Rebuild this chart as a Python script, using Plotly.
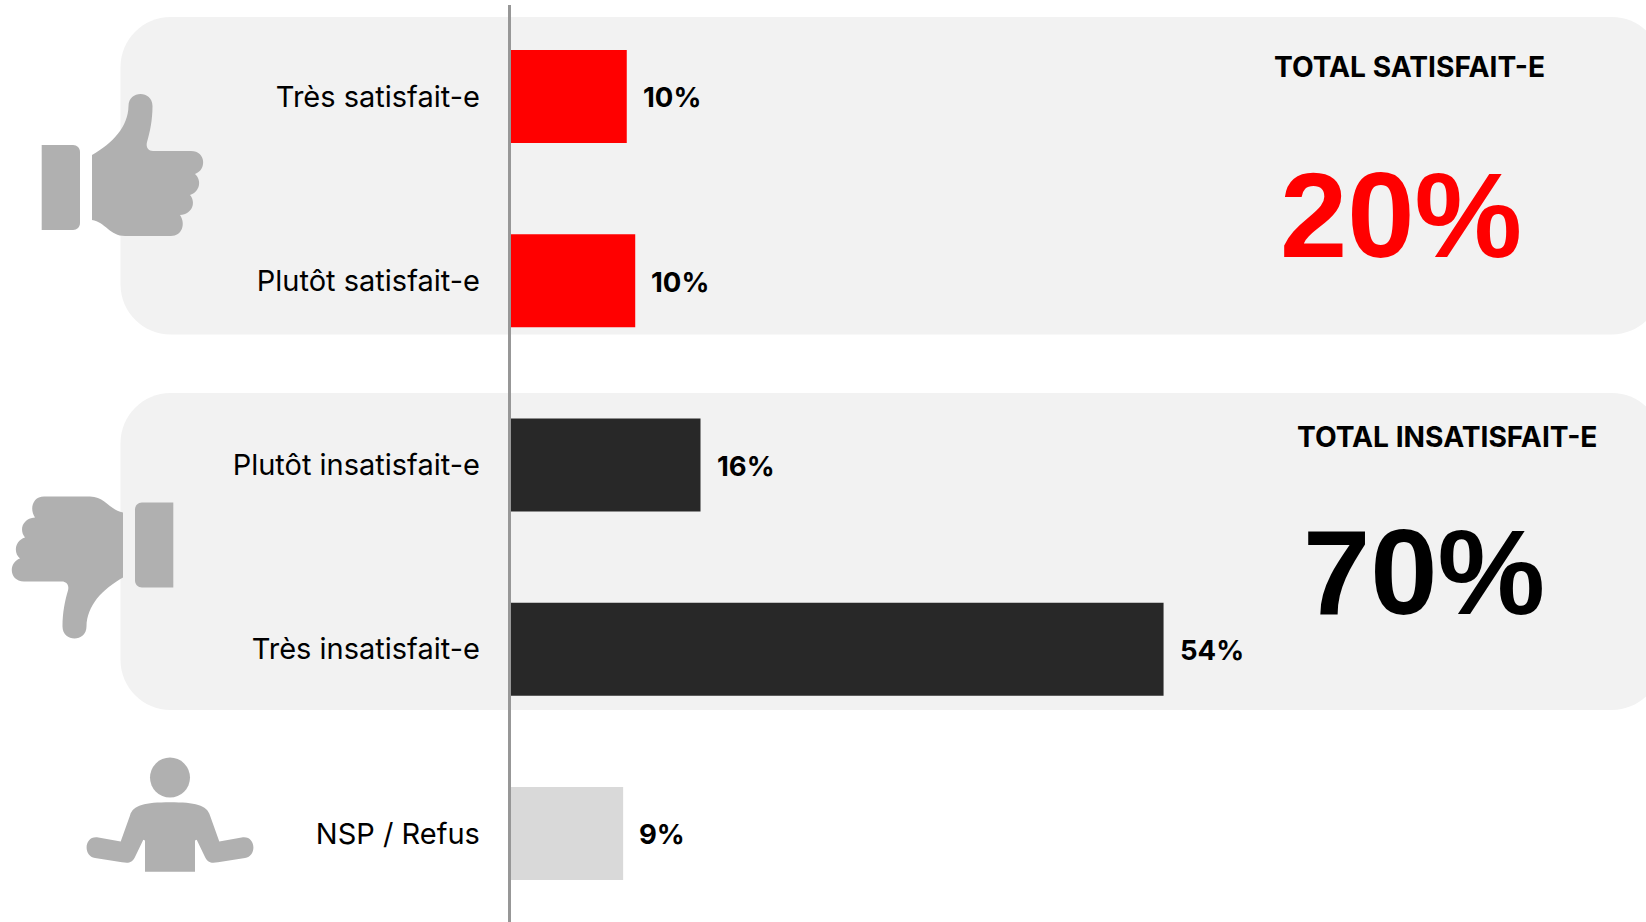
import plotly.graph_objects as go

W, H = 1646, 922

categories = ["Très satisfait-e", "Plutôt satisfait-e", "Plutôt insatisfait-e", "Très insatisfait-e", "NSP / Refus"]
values = [9.6, 10.3, 15.7, 54.0, 9.3]
value_labels = ["10%", "10%", "16%", "54%", "9%"]
bar_colors = ["#FF0000", "#FF0000", "#282828", "#282828", "#D9D9D9"]

total_titles = ["TOTAL SATISFAIT-E", "TOTAL INSATISFAIT-E"]
total_values = ["20%", "70%"]
total_colors = ["#FF0000", "#000000"]

ICON = "#B0B0B0"
PANEL = "#F2F2F2"
FONT = "Inter"
X0 = 510.7
PITCH = 184.25
C0 = 96.4


def px(x, y):
    return f"{x / W:.5f},{1 - y / H:.5f}"


def path(cmds):
    out = []
    for c in cmds:
        out.append(c[0] + " " + " ".join(px(c[i], c[i + 1]) for i in range(1, len(c), 2)))
    return " ".join(out) + " Z"


def rrect(x0, y0, x1, y1, r):
    k = r * 0.45
    return path([
        ("M", x0 + r, y0), ("L", x1 - r, y0),
        ("C", x1 - k, y0, x1, y0 + k, x1, y0 + r), ("L", x1, y1 - r),
        ("C", x1, y1 - k, x1 - k, y1, x1 - r, y1), ("L", x0 + r, y1),
        ("C", x0 + k, y1, x0, y1 - k, x0, y1 - r), ("L", x0, y0 + r),
        ("C", x0, y0 + k, x0 + k, y0, x0 + r, y0),
    ])


HAND = [
    ("M", 92, 155),
    ("C", 113, 143, 128, 127, 128.5, 106),
    ("C", 128.5, 90, 152.5, 90, 152.5, 106),
    ("C", 152.5, 120, 150, 132, 147, 142),
    ("C", 145.5, 148, 149, 151, 153, 151),
    ("L", 191, 151),
    ("C", 206, 151, 207, 170, 195, 174),
    ("C", 202, 180, 200, 192, 190, 195),
    ("C", 196, 202, 193, 214, 180, 215),
    ("C", 186, 224, 182, 236, 171, 236),
    ("L", 125, 236),
    ("C", 110, 236, 105, 222, 92, 220),
]
CUFF = [
    ("M", 41.7, 145), ("L", 73, 145),
    ("C", 77, 145, 80, 148, 80, 152), ("L", 80, 223),
    ("C", 80, 227, 77, 230, 73, 230), ("L", 41.7, 230),
]


def flip(cmds):
    res = []
    for c in cmds:
        n = [c[0]]
        for i in range(1, len(c), 2):
            n += [215 - c[i], 732.5 - c[i + 1]]
        res.append(tuple(n))
    return res


BODY_CMDS = [
    ("M", 145, 854.3), ("L", 145, 824), ("L", 143.3, 823.3), ("L", 135, 840),
    ("C", 132, 846, 128, 846, 122, 845), ("L", 95, 841),
    ("C", 83, 839, 84, 820, 97, 821), ("L", 120.7, 825), ("L", 130, 800),
    ("C", 133, 790, 145, 787.3, 170, 787.3),
    ("C", 195, 787.3, 207, 790, 210, 800), ("L", 219.3, 825), ("L", 243, 821),
    ("C", 256, 820, 257, 839, 245, 841), ("L", 218, 845),
    ("C", 212, 846, 208, 846, 205, 840), ("L", 196.7, 823.3), ("L", 195, 824), ("L", 195, 854.3),
]


def stretch(cmds):
    res = []
    for c in cmds:
        n = [c[0]]
        for i in range(1, len(c), 2):
            n += [c[i], 380 + (c[i + 1] - 380) * 1.037]
        res.append(tuple(n))
    return res


shapes = []
for d, col in [
    (rrect(120.5, 17, 1662, 334.5, 50), PANEL),
    (rrect(120.5, 393, 1662, 710, 50), PANEL),
    (path(CUFF), ICON), (path(HAND), ICON),
    (path(flip(CUFF)), ICON), (path(flip(HAND)), ICON),
    (path(stretch(BODY_CMDS)), ICON),
]:
    shapes.append(dict(type="path", xref="paper", yref="paper", path=d,
                       fillcolor=col, line_width=0, layer="below"))
shapes.append(dict(type="circle", xref="paper", yref="paper",
                   x0=150 / W, x1=190 / W, y0=1 - 797.6 / H, y1=1 - 757.6 / H,
                   fillcolor=ICON, line_width=0, layer="below"))

fig = go.Figure(go.Bar(
    y=categories, x=values, orientation="h", width=93 / PITCH,
    marker=dict(color=bar_colors, line_width=0), hoverinfo="skip",
))

annotations = []
for c, v, t in zip(categories, values, value_labels):
    annotations.append(dict(x=v, y=c, xref="x", yref="y", text=t, showarrow=False,
                            xanchor="left", yanchor="middle", xshift=14, yshift=-1,
                            font=dict(family=FONT, size=27.5, color="#000000", weight=700)))

for t, xc, yc in zip(total_titles, [1409, 1446.6], [66.7, 437]):
    annotations.append(dict(x=xc / W, y=1 - yc / H, xref="paper", yref="paper", text=t,
                            showarrow=False, xanchor="center", yanchor="middle",
                            font=dict(family=FONT, size=28.2, color="#000000", weight=700)))
for t, col, xc, yc in zip(total_values, total_colors, [1401, 1424], [214.7, 572]):
    annotations.append(dict(x=xc / W, y=1 - yc / H, xref="paper", yref="paper", text=t,
                            showarrow=False, xanchor="center", yanchor="middle",
                            font=dict(family="Liberation Sans", size=121, color=col, weight=700)))

fig.update_layout(
    width=W, height=H, margin=dict(l=0, r=0, t=0, b=0, pad=0, autoexpand=False),
    paper_bgcolor="#FFFFFF", plot_bgcolor="rgba(0,0,0,0)",
    showlegend=False, shapes=shapes, annotations=annotations,
    xaxis=dict(domain=[X0 / W, 1], range=[0, (W - X0) / 12.09], visible=False),
    yaxis=dict(
        domain=[0, 1 - 5 / H], range=[(H - C0) / PITCH, (5 - C0) / PITCH],
        type="category", categoryorder="array", categoryarray=categories,
        showline=True, linecolor="#979797", linewidth=3, showgrid=False, zeroline=False,
        ticks="", ticklabelstandoff=22,
        tickfont=dict(family=FONT, size=29, color="#000000"),
    ),
)

fig.write_html("out.html", config={"displayModeBar": False},
               post_script="document.body.style.margin='0';document.body.style.overflow='hidden';")
